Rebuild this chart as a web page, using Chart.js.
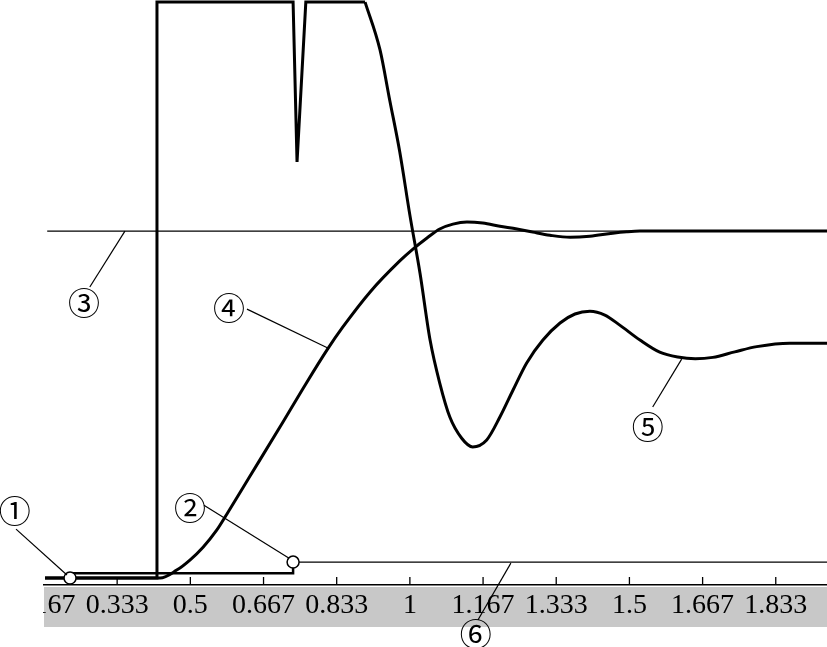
<!DOCTYPE html>
<html>
<head>
<meta charset="utf-8">
<script src="https://cdn.jsdelivr.net/npm/chart.js@4.4.1/dist/chart.umd.min.js"></script>
<style>
  html, body { margin: 0; padding: 0; background: #fff; }
  #wrap { width: 827px; height: 647px; position: relative; }
</style>
</head>
<body>
<div id="wrap"><canvas id="chart"></canvas></div>
<script>
// time axis ticks (s)
var tickValues = [0.1667, 0.3333, 0.5, 0.6667, 0.8333, 1, 1.1667, 1.3333, 1.5, 1.6667, 1.8333];
var tickLabels = ['0.167', '0.333', '0.5', '0.667', '0.833', '1', '1.167', '1.333', '1.5', '1.667', '1.833'];

// 3: reference level
var refT = [0.174, 1.950];
var refY = [1, 1];

// 4: output response
var outT = [0.169, 0.431, 0.469, 0.499, 0.529, 0.560, 0.583, 0.636, 0.711, 0.756, 0.811, 0.847, 0.909, 0.977, 1.007, 1.039, 1.068, 1.098, 1.130, 1.166, 1.205, 1.244, 1.280, 1.319, 1.365, 1.410, 1.462, 1.494, 1.524, 1.950];
var outY = [0, 0, 0.023, 0.052, 0.089, 0.138, 0.184, 0.294, 0.450, 0.545, 0.657, 0.723, 0.824, 0.914, 0.948, 0.980, 1.006, 1.020, 1.026, 1.023, 1.014, 1.006, 0.997, 0.988, 0.982, 0.985, 0.994, 0.998, 1.000, 1.000];

// 5: control signal (saturated part, then decay)
var ctrlStepT = [0.169, 0.424, 0.424, 0.734, 0.743, 0.763, 0.898];
var ctrlStepY = [0, 0, 1.660, 1.660, 1.199, 1.660, 1.660];
var ctrlDecayT = [0.898, 0.932, 0.954, 0.977, 1.000, 1.023, 1.046, 1.068, 1.091, 1.118, 1.143, 1.175, 1.205, 1.235, 1.266, 1.303, 1.342, 1.376, 1.410, 1.444, 1.478, 1.524, 1.569, 1.610, 1.650, 1.690, 1.740, 1.790, 1.865, 1.950];
var ctrlDecayY = [1.660, 1.522, 1.378, 1.228, 1.046, 0.879, 0.686, 0.562, 0.464, 0.403, 0.378, 0.398, 0.464, 0.542, 0.620, 0.686, 0.735, 0.761, 0.769, 0.758, 0.729, 0.686, 0.651, 0.637, 0.632, 0.636, 0.652, 0.667, 0.677, 0.677];

// 1 -> 2: switching signal, 6: level after switch
var stepT = [0.226, 0.233, 0.734, 0.734];
var stepY = [0, 0.014, 0.014, 0.046];
var levelT = [0.734, 1.950];
var levelY = [0.046, 0.046];
var markerT = [0.226, 0.734];
var markerY = [0, 0.046];

// circled callouts: label centre and leader line (data units)
var calloutText = ['①', '②', '③', '④', '⑤', '⑥'];
var calloutT = [0.100, 0.499, 0.258, 0.588, 1.542, 1.150];
var calloutY = [0.193, 0.202, 0.793, 0.778, 0.435, -0.161];
var leaderT0 = [0.103, 0.531, 0.271, 0.629, 1.553, 1.155];
var leaderY0 = [0.141, 0.210, 0.839, 0.775, 0.493, -0.121];
var leaderT1 = [0.219, 0.724, 0.351, 0.813, 1.619, 1.230];
var leaderY1 = [0.009, 0.058, 1.000, 0.663, 0.631, 0.043];

function pts(ts, ys) {
    return ts.map(function (t, i) { return { x: t, y: ys[i] }; });
}

function line(data, width, smooth) {
    return {
        data: data,
        borderColor: '#000',
        borderWidth: width,
        pointRadius: 0,
        fill: false,
        tension: 0,
        cubicInterpolationMode: smooth ? 'monotone' : 'default'
    };
}

// gray label band, inward tick marks, callouts
var decor = {
    id: 'decor',
    beforeDraw: function (chart) {
        var a = chart.chartArea, ctx = chart.ctx;
        ctx.save();
        ctx.fillStyle = '#c8c8c8';
        ctx.fillRect(a.left, a.bottom + 2, a.right - a.left, 40);
        ctx.restore();
    },
    afterDraw: function (chart) {
        var a = chart.chartArea, ctx = chart.ctx;
        var xs = chart.scales.x, ys = chart.scales.y;
        ctx.save();
        // hide the part of the first label that runs off the band
        ctx.fillStyle = '#fff';
        ctx.fillRect(0, a.bottom + 1, a.left - 1, 46);

        ctx.strokeStyle = '#000';
        ctx.lineWidth = 1.3;
        xs.ticks.forEach(function (tk) {
            var px = xs.getPixelForValue(tk.value);
            if (px <= a.left + 2) return;
            ctx.beginPath();
            ctx.moveTo(px, a.bottom);
            ctx.lineTo(px, a.bottom - 8);
            ctx.stroke();
        });

        ctx.lineWidth = 1.2;
        ctx.fillStyle = '#000';
        ctx.font = '32px "Noto Sans CJK SC"';
        ctx.textAlign = 'center';
        ctx.textBaseline = 'middle';
        calloutText.forEach(function (txt, i) {
            ctx.beginPath();
            ctx.moveTo(xs.getPixelForValue(leaderT0[i]), ys.getPixelForValue(leaderY0[i]));
            ctx.lineTo(xs.getPixelForValue(leaderT1[i]), ys.getPixelForValue(leaderY1[i]));
            ctx.stroke();
            ctx.fillText(txt, xs.getPixelForValue(calloutT[i]), ys.getPixelForValue(calloutY[i]));
        });
        ctx.restore();
    }
};

var markers = line(pts(markerT, markerY), 1.5, false);
markers.showLine = false;
markers.pointRadius = 6;
markers.pointBackgroundColor = '#fff';
markers.pointBorderColor = '#000';
markers.pointBorderWidth = 1.5;

new Chart(document.getElementById('chart'), {
    type: 'line',
    data: {
        datasets: [
            markers,
            line(pts(outT, outY), 3, true),
            line(pts(ctrlStepT, ctrlStepY), 3, false),
            line(pts(ctrlDecayT, ctrlDecayY), 3, true),
            line(pts(stepT, stepY), 2.5, false),
            line(pts(levelT, levelY), 1.3, false),
            line(pts(refT, refY), 1.3, false)
        ]
    },
    options: {
        responsive: true,
        maintainAspectRatio: false,
        animation: false,
        layout: { autoPadding: false, padding: { left: 44, top: 0, right: 0, bottom: 0 } },
        plugins: {
            legend: { display: false },
            tooltip: { enabled: false }
        },
        scales: {
            x: {
                type: 'linear',
                min: 0.1667,
                max: 1.95,
                grid: { display: false, drawTicks: false },
                border: { display: true, color: '#000', width: 1.5 },
                ticks: {
                    color: '#000',
                    padding: 4,
                    maxRotation: 0,
                    autoSkip: false,
                    font: { family: '"Liberation Serif", serif', size: 28 },
                    callback: function (value, index) { return tickLabels[index]; }
                },
                afterBuildTicks: function (scale) {
                    scale.ticks = tickValues.map(function (v) { return { value: v }; });
                },
                afterFit: function (scale) { scale.height = 62; }
            },
            y: { display: false, min: -0.02, max: 1.666 }
        }
    },
    plugins: [decor]
});
</script>
</body>
</html>
